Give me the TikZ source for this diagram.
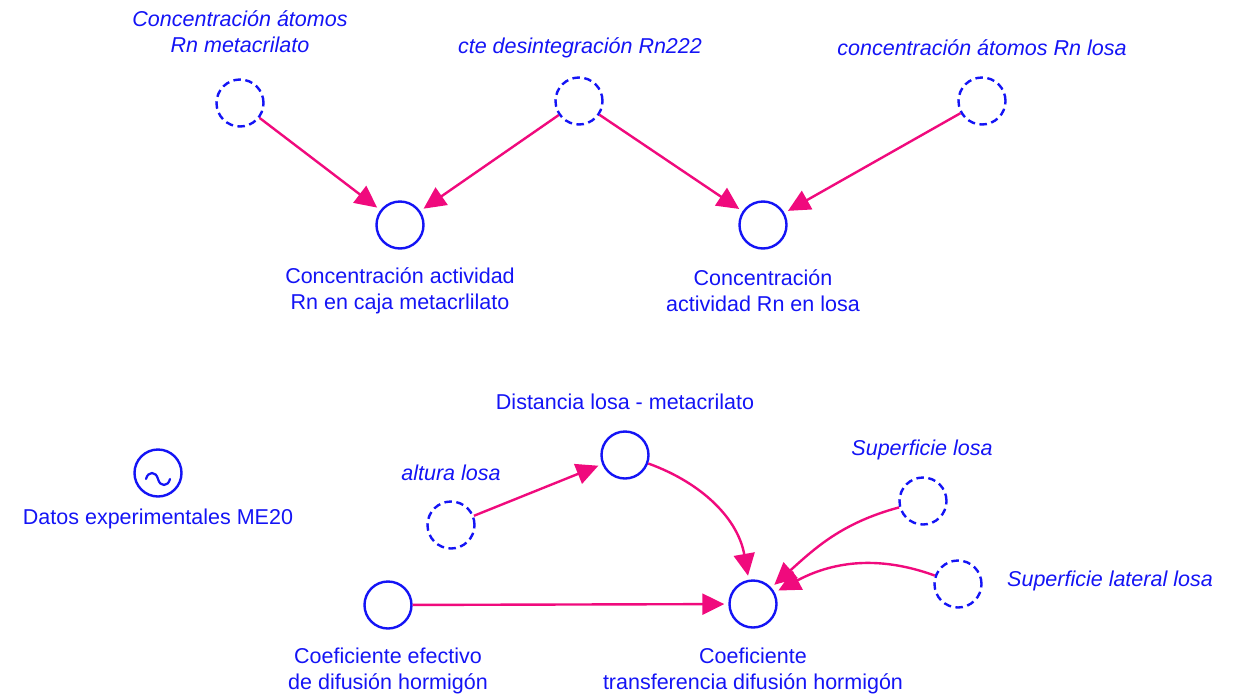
\documentclass[tikz,border=0pt]{standalone}
\usepackage{fontspec}
\setmainfont{Liberation Sans}
\usetikzlibrary{arrows.meta}
\definecolor{varblue}{RGB}{20,20,245}
\definecolor{linkpink}{RGB}{240,10,125}
\begin{document}
\begin{tikzpicture}[x=1pt,y=-1pt,
  every node/.style={font=\fontsize{21.5}{26}\selectfont, text=varblue},
  aux/.style={circle, draw=varblue, line width=2.4pt, dash pattern=on 7.5pt off 4.5pt, minimum size=47pt, inner sep=0pt},
  level/.style={circle, draw=varblue, line width=2.4pt, minimum size=47pt, inner sep=0pt},
  lbl/.style={align=center, inner sep=0pt},
  ilbl/.style={align=center, inner sep=0pt, font=\fontsize{21.5}{26}\selectfont\itshape},
  link/.style={draw=linkpink, line width=2.4pt, -{Triangle[length=22pt,width=21pt]}, shorten >=4pt, shorten <=0pt}
]
\useasboundingbox (0,0) rectangle (1243,694);

% upper group
\node[aux] (ca) at (240,103) {};
\node[ilbl] (cal) at (240,32) {Concentración átomos\\Rn metacrilato};
\node[aux] (cte) at (579,101) {};
\node[ilbl] (ctel) at (580,48) {cte desintegración Rn222};
\node[aux] (cl) at (982,101) {};
\node[ilbl] (cll) at (982,48) {concentración átomos Rn losa};
\node[level] (acm) at (400,225) {};
\node[lbl] (acml) at (400,291) {Concentración actividad\\Rn en caja metacrlilato};
\node[level] (acl) at (763,225) {};
\node[lbl] (acll) at (763,291) {Concentración\\actividad Rn en losa};

\draw[link] (ca) -- (acm);
\draw[link] (cte) -- (acm);
\draw[link] (cte) -- (acl);
\draw[link] (cl) -- (acl);

% experimental data: circle with a wave inside
\node[level] (dat) at (158,473) {};
\draw[varblue, line width=2.2pt, line cap=round] (146,479)
  .. controls (148,471) and (156,471) .. (158,479)
  .. controls (160,487) and (168,487) .. (170,479);
\node[lbl] (datl) at (158,519) {Datos experimentales ME20};

% lower group
\node[level] (dist) at (625,455) {};
\node[lbl] (distl) at (625,402) {Distancia losa - metacrilato};
\node[aux] (alt) at (451,525) {};
\node[ilbl] (altl) at (451,473) {altura losa};
\node[aux] (sup) at (923,501) {};
\node[ilbl] (supl) at (922,450) {Superficie losa};
\node[aux] (slat) at (958,584) {};
\node[ilbl, anchor=west] (slatl) at (1007,581) {Superficie lateral losa};
\node[level] (cef) at (388,605) {};
\node[lbl] (cefl) at (388,671) {Coeficiente efectivo\\de difusión hormigón};
\node[level] (ctr) at (753,604) {};
\node[lbl] (ctrl) at (753,671) {Coeficiente\\transferencia difusión hormigón};

\draw[link] (alt) -- (dist);
\draw[link] (cef) -- (ctr);
\draw[link] (dist) to[out=-20,in=100] (ctr);
\draw[link] (sup) to[out=195,in=42] (ctr);
\draw[link] (slat) to[out=160,in=28] (ctr);
\end{tikzpicture}
\end{document}
